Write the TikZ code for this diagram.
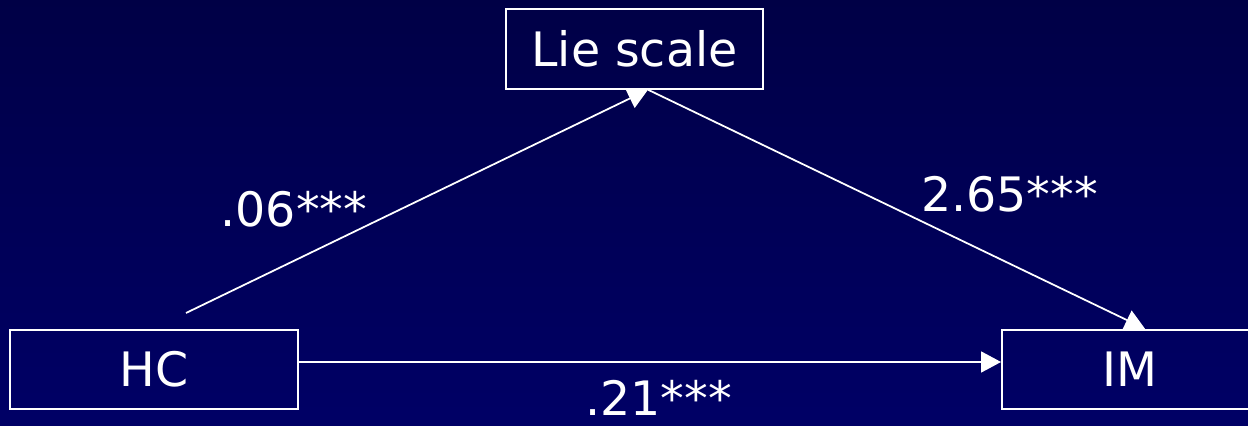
\documentclass[tikz,border=0pt]{standalone}
\usepackage{fontspec}
\setmainfont{DejaVu Sans}
\usetikzlibrary{arrows.meta,calc,positioning}
\definecolor{mdtop}{HTML}{000046}
\definecolor{mdbottom}{HTML}{000066}
\definecolor{mdink}{HTML}{FFFFFF}
\tikzset{
  every picture/.style={font=\fontsize{27}{31}\selectfont,text=mdink},
  varbox/.style={rectangle,draw=mdink,line width=1.1pt,inner sep=0pt,
    minimum height=1.59cm},
  path/.style={draw=mdink,line width=1pt,
    -{Triangle[length=4mm,width=4.2mm]}},
  coef/.style={anchor=base,inner sep=0pt},
}
\begin{document}
\begin{tikzpicture}[x=1cm,y=1cm]
  \path[use as bounding box] (0,0) rectangle (24.96,8.52);
  \shade[top color=mdtop,bottom color=mdbottom] (0,0) rectangle (24.96,8.52);
  \node[varbox,minimum width=5.76cm] (hc) at (3.08,1.13) {HC};
  \node[varbox,minimum width=5.14cm] (lie) at (12.69,7.54) {Lie scale};
  \node[varbox,minimum width=5.12cm] (im) at (22.6,1.13) {IM};
  \coordinate (hcfree) at (3.72,2.26);
  \coordinate (lietip) at ([xshift=2.7mm]lie.south);
  \coordinate (imtip) at ([xshift=3mm]im.north);
  \draw[path] (hcfree)--(lietip);
  \draw[path] (lietip)--(imtip);
  \draw[path] ([yshift=1.5mm]hc.east)--([yshift=1.5mm]im.west);
  \node[coef] (ahc) at (5.88,3.98) {.06***};
  \node[coef] (bim) at (20.19,4.28) {2.65***};
  \node[coef] (chc) at (13.17,0.2) {.21***};
\end{tikzpicture}
\end{document}
